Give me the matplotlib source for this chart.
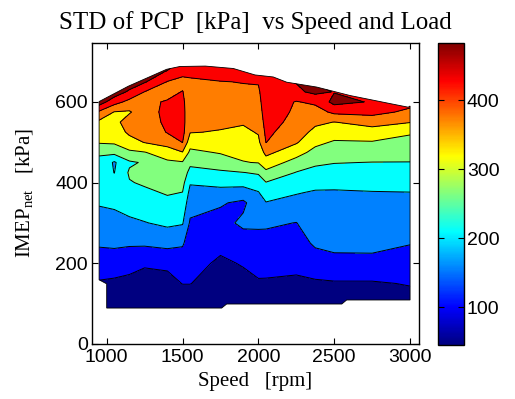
import numpy as np
import matplotlib
matplotlib.use('Agg')
import matplotlib.pyplot as plt
from matplotlib.colors import LinearSegmentedColormap, Normalize
from matplotlib.cm import ScalarMappable
from matplotlib.patches import Polygon

# measurement grid: engine speed [rpm] x load IMEPnet [kPa]
speeds = [950, 1050, 1150, 1250, 1400, 1500, 1550, 1750, 1900, 2000, 2050, 2250, 2375, 2500, 2750, 3000]
loads = [50, 100, 150, 200, 250, 300, 350, 375, 400, 425, 450, 475,
         500, 525, 550, 575, 600, 625, 650, 675, 700]

# STD of PCP [kPa], one list per speed (values along loads)
std_950 = [40, 67, 95, 126, 156, 180, 204, 213, 222, 232, 241, 255, 305, 323, 340, 392, 477, 483, 485, 485, 485]
std_1050 = [40, 65, 91, 125, 159, 186, 207, 215, 214, 199, 194, 264, 307, 321, 334, 348, 419, 482, 485, 485, 485]
std_1150 = [45, 66, 88, 115, 157, 191, 220, 234, 247, 256, 243, 292, 329, 360, 375, 345, 385, 440, 485, 485, 485]
std_1250 = [45, 65, 83, 105, 158, 198, 227, 241, 256, 262, 255, 298, 352, 361, 370, 380, 390, 399, 455, 485, 485]
std_1400 = [45, 69, 87, 108, 166, 209, 239, 254, 266, 279, 292, 325, 370, 403, 412, 412, 404, 385, 398, 445, 485]
std_1500 = [50, 75, 101, 127, 155, 204, 235, 249, 265, 281, 296, 348, 401, 415, 420, 418, 412, 402, 385, 415, 440]
std_1550 = [50, 75, 101, 115, 130, 144, 169, 186, 204, 233, 262, 289, 321, 352, 356, 361, 366, 375, 387, 420, 440]
std_1750 = [50, 64, 79, 93, 111, 133, 155, 186, 212, 243, 274, 304, 326, 347, 359, 368, 378, 388, 398, 430, 450]
std_1900 = [55, 73, 88, 103, 126, 160, 140, 180, 214, 249, 298, 312, 324, 339, 355, 368, 380, 390, 402, 430, 450]
std_2000 = [55, 75, 95, 115, 135, 157, 184, 197, 224, 256, 302, 321, 339, 354, 363, 373, 382, 391, 404, 430, 450]
std_2050 = [55, 75, 95, 114, 134, 157, 198, 222, 248, 289, 327, 363, 401, 410, 420, 428, 434, 438, 442, 446, 448]
std_2250 = [55, 74, 92, 111, 130, 149, 185, 203, 224, 248, 282, 319, 355, 375, 385, 392, 397, 440, 452, 452, 452]
std_2375 = [55, 72, 93, 127, 157, 173, 189, 195, 215, 238, 257, 285, 312, 336, 360, 378, 410, 462, 448, 440, 440]
std_2500 = [55, 72, 95, 138, 161, 172, 189, 196, 210, 231, 252, 273, 295, 322, 349, 411, 465, 448, 430, 430, 430]
std_2750 = [55, 72, 95, 139, 161, 173, 190, 198, 213, 232, 249, 274, 297, 327, 370, 415, 446, 430, 425, 425, 425]
std_3000 = [60, 80, 103, 128, 152, 171, 190, 199, 216, 232, 249, 266, 284, 306, 352, 390, 415, 420, 420, 420, 420]

# measured operating envelope
env_speed = [950, 950, 1000, 1000, 1758, 1791, 2550, 2582, 3000, 3000, 2988, 2868, 2604,
             2384, 2187, 2098, 1978, 1835, 1650, 1483, 1395, 1142]
env_load = [601, 159, 149, 89, 89, 99, 99, 109, 109, 590, 587, 596, 616,
            637, 649, 662, 667, 683, 689, 688, 681, 639]

levels = [0, 100, 150, 200, 250, 300, 350, 400, 450, 600]
cbar_ticks = [100, 200, 300, 400]
cmin, cmax = 45, 483

Z = np.column_stack([std_950, std_1050, std_1150, std_1250, std_1400, std_1500, std_1550,
                     std_1750, std_1900, std_2000, std_2050, std_2250, std_2375, std_2500,
                     std_2750, std_3000])

plt.rcParams['font.family'] = ['Liberation Sans', 'DejaVu Sans']
plt.rcParams['mathtext.fontset'] = 'custom'
plt.rcParams['mathtext.rm'] = 'Liberation Serif'

jet = LinearSegmentedColormap.from_list('mjet', [(0, (0, 0, .5)), (1/8, (0, 0, 1)), (3/8, (0, 1, 1)),
                                                 (5/8, (1, 1, 0)), (7/8, (1, 0, 0)), (1, (.5, 0, 0))])
band_colors = [jet(v) for v in np.linspace(0, 1, len(levels) - 1)]

fig = plt.figure(figsize=(5.15, 3.99), dpi=100)
ax = fig.add_axes([0.1786, 0.138, 0.635, 0.754])

env = Polygon(np.column_stack([env_speed, env_load]), closed=True,
              facecolor='none', edgecolor='k', lw=0.6, zorder=3)
ax.add_patch(env)

cf = ax.contourf(speeds, loads, Z, levels=levels, colors=band_colors)
cl = ax.contour(speeds, loads, Z, levels=levels[1:-1], colors='k', linewidths=0.7)
cf.set_clip_path(env)
cl.set_clip_path(env)

ax.set_xlim(903, 3059)
ax.set_ylim(0, 746)
ax.set_xticks([1000, 1500, 2000, 2500, 3000])
ax.set_yticks([0, 200, 400, 600])
ax.tick_params(direction='in', top=True, right=True, length=4, labelsize=14)
ax.tick_params(axis='x', pad=4)
ax.tick_params(axis='y', pad=3)
for s in ax.spines.values():
    s.set_linewidth(1.0)

ax.set_title('STD of PCP  [kPa]  vs Speed and Load', fontfamily='Liberation Serif', fontsize=18, pad=10)
ax.set_xlabel('Speed   [rpm]', fontfamily='Liberation Serif', fontsize=15, labelpad=4)
ax.set_ylabel(r'IMEP$_{\rm net}$   [kPa]', fontfamily='Liberation Serif', fontsize=15, labelpad=14)

cax = fig.add_axes([0.8505, 0.1353, 0.0505, 0.757])
cb = fig.colorbar(ScalarMappable(norm=Normalize(cmin, cmax), cmap=jet), cax=cax, ticks=cbar_ticks)
cb.ax.tick_params(direction='in', left=True, right=True, length=4, labelsize=14, pad=2)
cb.outline.set_linewidth(1.0)

fig.savefig('out.png', dpi=100)
